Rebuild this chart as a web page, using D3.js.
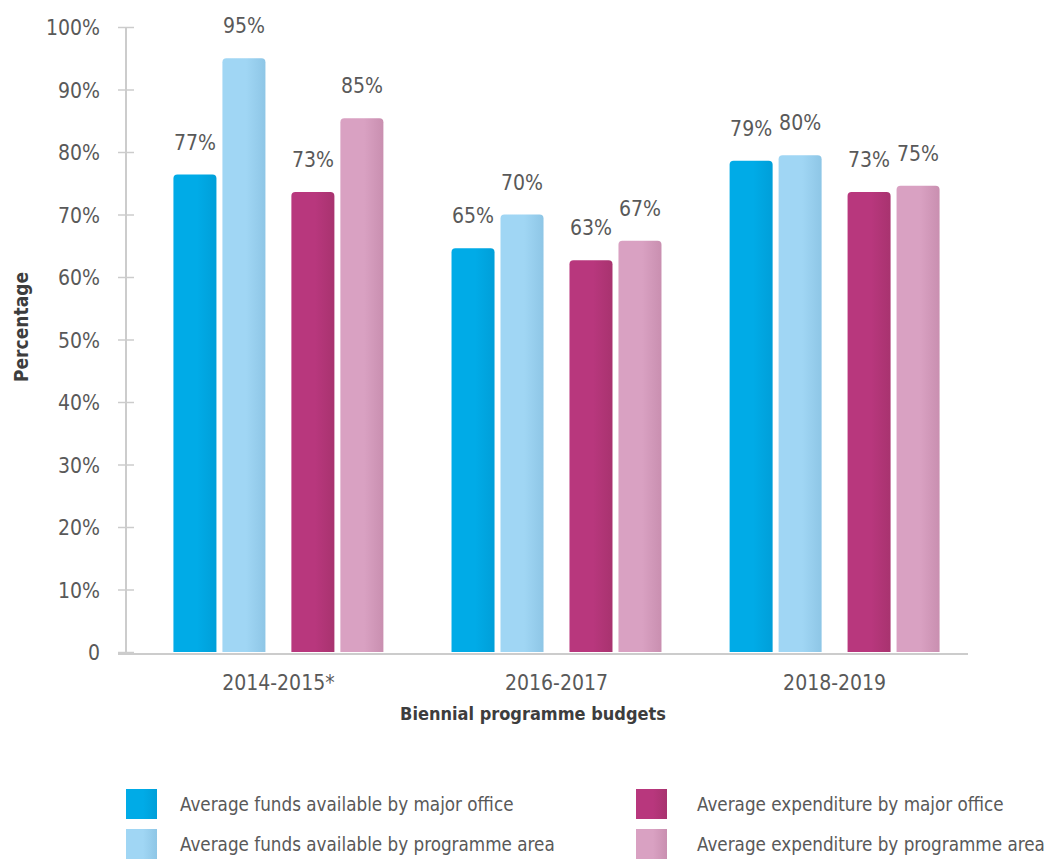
<!DOCTYPE html>
<html>
<head>
<meta charset="utf-8">
<script src="https://cdn.jsdelivr.net/npm/d3@7"></script>
<style>
  body { margin: 0; background: #fff; }
  svg text { font-family: "Liberation Sans Narrow", "DejaVu Sans Condensed", "Roboto", sans-serif; }
</style>
</head>
<body>
<svg id="chart" width="1050" height="861"></svg>
<script>
const years = ["2014-2015*", "2016-2017", "2018-2019"];
const fundsOffice = [76.4, 64.6, 78.6];
const fundsArea = [95.0, 70.0, 79.5];
const expOffice = [73.6, 62.7, 73.6];
const expArea = [85.4, 65.8, 74.6];
const fundsOfficeLabels = ["77%", "65%", "79%"];
const fundsAreaLabels = ["95%", "70%", "80%"];
const expOfficeLabels = ["73%", "63%", "73%"];
const expAreaLabels = ["85%", "67%", "75%"];
const yTicks = [0, 10, 20, 30, 40, 50, 60, 70, 80, 90, 100];
const seriesNames = [
  "Average funds available by major office",
  "Average funds available by programme area",
  "Average expenditure by major office",
  "Average expenditure by programme area"
];

const series = [
  {name: seriesNames[0], kind: "funds", level: "office", values: fundsOffice, labels: fundsOfficeLabels, c1: "#00abe7", c2: "#009fd9"},
  {name: seriesNames[1], kind: "funds", level: "area", values: fundsArea, labels: fundsAreaLabels, c1: "#a0d6f4", c2: "#8ec6e6"},
  {name: seriesNames[2], kind: "exp", level: "office", values: expOffice, labels: expOfficeLabels, c1: "#b8377d", c2: "#a8336f"},
  {name: seriesNames[3], kind: "exp", level: "area", values: expArea, labels: expAreaLabels, c1: "#d9a1c2", c2: "#c98fb0"}
];

const svg = d3.select("#chart");
const defs = svg.append("defs");
series.forEach((s, i) => {
  const g = defs.append("linearGradient").attr("id", "grad" + i)
    .attr("x1", "0%").attr("x2", "100%").attr("y1", "0%").attr("y2", "0%");
  g.append("stop").attr("offset", "0%").attr("stop-color", s.c1);
  g.append("stop").attr("offset", "55%").attr("stop-color", s.c1);
  g.append("stop").attr("offset", "100%").attr("stop-color", s.c2);
});

const y = d3.scaleLinear().domain([0, 100]).range([652, 27]);
const x0 = d3.scaleBand().domain(years).range([139.5, 973.5]).paddingInner(0.245).paddingOuter(0.122);
const xPair = d3.scaleBand().domain(["funds", "exp"]).range([0, x0.bandwidth()]).paddingInner(0.22);
const xLevel = d3.scaleBand().domain(["office", "area"]).range([0, xPair.bandwidth()]).paddingInner(0.122);

const axisColor = "#cccccc";
const textColor = "#595959";

// Y axis
const yAxis = svg.append("g").attr("transform", "translate(126,0)")
  .call(d3.axisLeft(y).tickValues(yTicks).tickSize(8).tickFormat(d => d === 0 ? "0" : d + "%"));
yAxis.select(".domain").remove();
yAxis.selectAll(".tick line").attr("x1", -8).attr("x2", 8).attr("stroke", axisColor).attr("stroke-width", 1.5);
yAxis.selectAll(".tick text").attr("x", -26).attr("fill", textColor).attr("font-size", 21).attr("dy", "0.36em");
svg.append("line").attr("x1", 126).attr("x2", 126).attr("y1", y(100)).attr("y2", y(0) + 2)
  .attr("stroke", axisColor).attr("stroke-width", 2);

// X axis
svg.append("line").attr("x1", 118).attr("x2", 968).attr("y1", y(0) + 2).attr("y2", y(0) + 2)
  .attr("stroke", axisColor).attr("stroke-width", 2);
const xAxis = svg.append("g").attr("transform", `translate(0,${y(0) + 2})`)
  .call(d3.axisBottom(x0).tickSize(0));
xAxis.select(".domain").remove();
xAxis.selectAll(".tick text").attr("y", 36).attr("dy", 0).attr("fill", textColor).attr("font-size", 21);

function topRounded(x, yTop, w, h, r) {
  return `M${x},${yTop + h}V${yTop + r}Q${x},${yTop} ${x + r},${yTop}H${x + w - r}Q${x + w},${yTop} ${x + w},${yTop + r}V${yTop + h}Z`;
}

series.forEach((s, i) => {
  const g = svg.append("g");
  years.forEach((yr, j) => {
    const bx = x0(yr) + xPair(s.kind) + xLevel(s.level);
    const w = xLevel.bandwidth();
    const top = y(s.values[j]);
    g.append("path").attr("d", topRounded(bx, top, w, y(0) - top, 4)).attr("fill", `url(#grad${i})`);
    g.append("text").attr("x", bx + w / 2).attr("y", top - 25).attr("text-anchor", "middle")
      .attr("fill", textColor).attr("font-size", 21).text(s.labels[j]);
  });
});

// Axis titles
svg.append("text").attr("transform", "translate(28,327) rotate(-90)").attr("text-anchor", "middle")
  .attr("font-weight", "bold").attr("font-size", 19).attr("fill", "#3d3d3d").text("Percentage");
svg.append("text").attr("x", 533).attr("y", 720).attr("text-anchor", "middle")
  .attr("font-weight", "bold").attr("font-size", 18).attr("fill", "#3d3d3d").text("Biennial programme budgets");

// Legend
const legendPos = [[126, 789, 180], [126, 829, 180], [636, 789, 697], [636, 829, 697]];
series.forEach((s, i) => {
  const [lx, ly, tx] = legendPos[i];
  svg.append("rect").attr("x", lx).attr("y", ly).attr("width", 31).attr("height", 30).attr("fill", `url(#grad${i})`);
  svg.append("text").attr("x", tx).attr("y", ly + 15).attr("dy", "0.35em")
    .attr("fill", textColor).attr("font-size", 18.7).text(s.name);
});
</script>
</body>
</html>
